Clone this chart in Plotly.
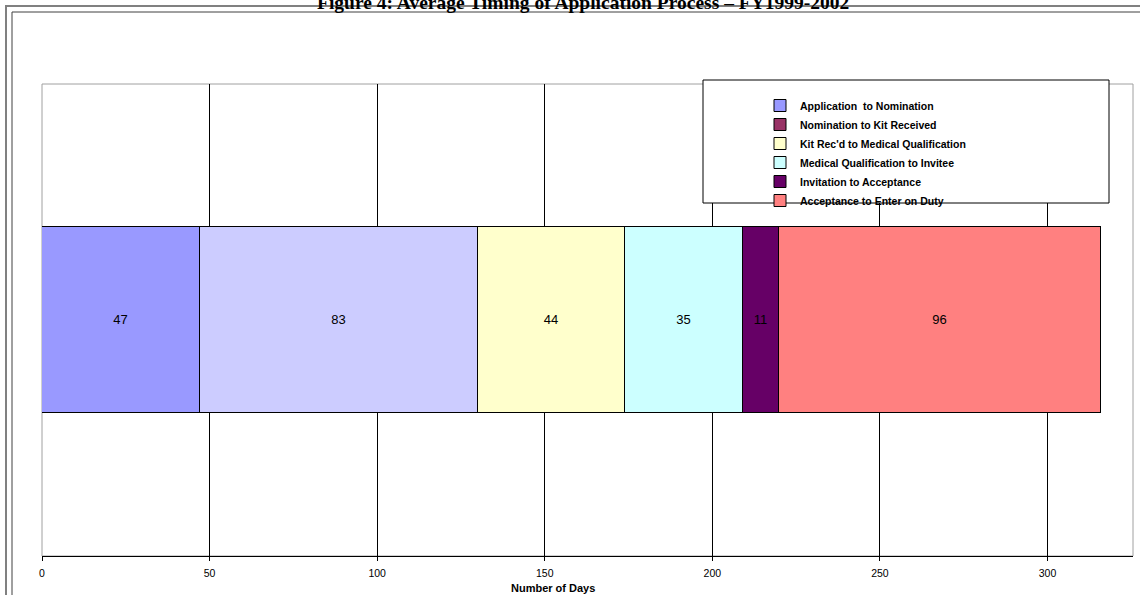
import plotly.graph_objects as go

# ---- data ----
stages = [
    "Application  to Nomination",
    "Nomination to Kit Received",
    "Kit Rec'd to Medical Qualification",
    "Medical Qualification to Invitee",
    "Invitation to Acceptance",
    "Acceptance to Enter on Duty",
]
days = [47, 83, 44, 35, 11, 96]
bar_colors = ["#9999FF", "#CCCCFF", "#FFFFCC", "#CCFFFF", "#660066", "#FF8080"]
legend_colors = ["#9999FF", "#993366", "#FFFFCC", "#CCFFFF", "#660066", "#FF8080"]
category = ["FY1999-2002"]
x_ticks = [0, 50, 100, 150, 200, 250, 300]

title_text = "Figure 4: Average Timing of Application Process \u2013 FY1999-2002"
x_title = "Number of Days"

W, H = 1140, 595
L, R, T, B = 42, 7, 84, 39
PW, PH = W - L - R, H - T - B


def px_x(p):
    return (p - L) / PW


def px_y(p):
    return (H - B - p) / PH


SANS = "Liberation Sans, Arial, sans-serif"
SERIF = "Liberation Serif, Times New Roman, serif"

fig = go.Figure()

for name, val, col in zip(stages, days, bar_colors):
    fig.add_trace(go.Bar(
        x=[val], y=category, orientation="h", name=name,
        marker=dict(color=col, line=dict(color="black", width=1)),
        width=0.396,
        text=[val], texttemplate="%{text}", textposition="inside",
        insidetextanchor="middle",
        textfont=dict(family=SANS, size=13, color="black"),
        showlegend=False, hoverinfo="x+name",
    ))

for name, col in zip(stages, legend_colors):
    fig.add_trace(go.Bar(
        x=[None], y=category, orientation="h", name=name,
        marker=dict(color=col, line=dict(color="black", width=1)),
        showlegend=True,
    ))

shapes = [
    # outer chart frame (double line)
    dict(type="rect", xref="paper", yref="paper",
         x0=px_x(6), x1=px_x(1160), y0=px_y(620), y1=px_y(6),
         line=dict(color="#808080", width=2), layer="below"),
    dict(type="rect", xref="paper", yref="paper",
         x0=px_x(12), x1=px_x(1160), y0=px_y(620), y1=px_y(12),
         line=dict(color="#404040", width=1), layer="below"),
    # plot area border
    dict(type="rect", xref="paper", yref="paper",
         x0=0, x1=1, y0=0, y1=1,
         line=dict(color="#A0A0A0", width=1), layer="below"),
    # legend box
    dict(type="rect", xref="paper", yref="paper",
         x0=px_x(703), x1=px_x(1109), y0=px_y(203), y1=px_y(80),
         line=dict(color="black", width=1), fillcolor="white", layer="above"),
]

fig.update_layout(
    width=W, height=H,
    margin=dict(l=L, r=R, t=T, b=B, pad=0),
    paper_bgcolor="white", plot_bgcolor="white",
    barmode="stack", bargap=0,
    shapes=shapes,
    showlegend=True,
    legend=dict(
        x=px_x(760), y=px_y(91), xanchor="left", yanchor="top",
        bgcolor="rgba(0,0,0,0)", borderwidth=0,
        font=dict(family=SANS, size=10.5, color="black", weight="bold"),
        traceorder="normal",
    ),
    xaxis=dict(
        range=[0, 325.5], tickvals=x_ticks,
        showgrid=True, gridcolor="black", gridwidth=1,
        zeroline=False, showline=True, linecolor="black", linewidth=1,
        ticks="outside", ticklen=4, tickcolor="black",
        ticklabelstandoff=3,
        tickfont=dict(family=SANS, size=10.5, color="black"),
    ),
    yaxis=dict(
        showticklabels=False, showgrid=False, zeroline=False,
        showline=False, range=[-0.5, 0.5],
    ),
    annotations=[
        dict(text=title_text, xref="paper", yref="paper",
             x=px_x(583), y=px_y(2.5), xanchor="center", yanchor="middle",
             showarrow=False,
             font=dict(family=SERIF, size=19.5, color="black", weight="bold")),
        dict(text=x_title, xref="paper", yref="paper",
             x=px_x(553), y=px_y(588), xanchor="center", yanchor="middle",
             showarrow=False,
             font=dict(family=SANS, size=11, color="black", weight="bold")),
    ],
)

fig.write_html("out.html")
